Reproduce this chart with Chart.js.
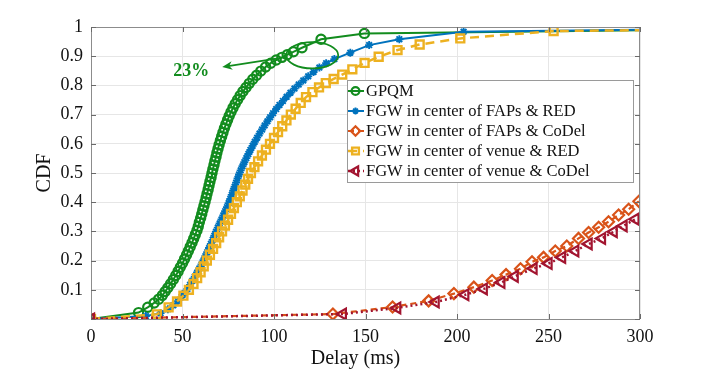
<!DOCTYPE html>
<html>
<head>
<meta charset="utf-8">
<script src="https://cdn.jsdelivr.net/npm/chart.js@4.4.1/dist/chart.umd.min.js"></script>
<style>
  html, body { margin: 0; padding: 0; background: #fff; }
  canvas { display: block; }
</style>
</head>
<body>
<canvas id="cdfChart" width="706" height="370"></canvas>
<script>
// legend text, in plotting order
const seriesNames = [
  'GPQM',
  'FGW in center of FAPs & RED',
  'FGW in center of FAPs & CoDel',
  'FGW in center of venue & RED',
  'FGW in center of venue & CoDel'
];

const xTickValues = [0, 50, 100, 150, 200, 250, 300];
const yTickValues = [0, 0.1, 0.2, 0.3, 0.4, 0.5, 0.6, 0.7, 0.8, 0.9, 1];

// GPQM
const gpqmDelay = [0, 26, 31, 34.5, 37, 39, 40.5, 42, 43.5, 45, 46.3, 47.6, 48.8, 50, 51.1, 52.2, 53.2, 54.2, 55.2, 56.1,
  57, 57.9, 58.6, 59.2, 59.9, 60.5, 61.1, 61.7, 62.3, 62.9, 63.4, 64, 64.5, 65, 65.6, 66.1, 66.6, 67.2, 67.7, 68.3,
  68.8, 69.4, 70, 70.7, 71.4, 72.1, 72.9, 73.7, 74.6, 75.5, 76.5, 77.6, 78.8, 80.1, 81.5, 83, 84.7, 86.5, 88.4, 90.5,
  92.8, 95.4, 98.2, 101.2, 104.3, 107.2, 110.6, 115.3, 125.7, 149.4, 360];
const gpqmCdf = [0, 0.022, 0.04, 0.055, 0.068, 0.081, 0.094, 0.107, 0.121, 0.135, 0.149, 0.163, 0.177, 0.191, 0.205, 0.219, 0.233, 0.247, 0.261, 0.275,
  0.289, 0.303, 0.317, 0.331, 0.345, 0.359, 0.373, 0.387, 0.401, 0.415, 0.429, 0.443, 0.457, 0.471, 0.485, 0.499, 0.513, 0.527, 0.541, 0.555,
  0.569, 0.583, 0.597, 0.611, 0.625, 0.639, 0.653, 0.667, 0.681, 0.695, 0.709, 0.723, 0.737, 0.751, 0.765, 0.779, 0.793, 0.807, 0.821, 0.835,
  0.849, 0.863, 0.876, 0.887, 0.896, 0.905, 0.915, 0.929, 0.958, 0.978, 0.993];

// FGW in center of FAPs & RED
const fapsRedDelay = [0, 30, 38, 42, 45, 47.5, 49.5, 51.2, 52.7, 54.1, 55.4, 56.7, 58, 59.2, 60.4, 61.5, 62.5, 63.5, 64.5, 65.5,
  66.5, 67.4, 68.3, 69.3, 70.3, 71.3, 72.3, 73.3, 74.3, 75.2, 76.1, 76.9, 77.7, 78.5, 79.3, 80.1, 80.9, 81.8, 82.8, 83.8,
  84.9, 86, 87.1, 88.3, 89.5, 90.8, 92.1, 93.5, 94.9, 96.4, 97.9, 99.5, 101.2, 103, 104.9, 106.9, 109, 111.2, 113.5, 116,
  118.7, 121.6, 124.8, 128.5, 133, 141.7, 152, 168.5, 203.6, 360];
const fapsRedCdf = [0, 0.01, 0.02, 0.033, 0.047, 0.061, 0.075, 0.089, 0.103, 0.117, 0.131, 0.145, 0.159, 0.173, 0.187, 0.201, 0.215, 0.229, 0.243, 0.257,
  0.271, 0.285, 0.299, 0.313, 0.327, 0.341, 0.355, 0.369, 0.383, 0.397, 0.411, 0.425, 0.439, 0.453, 0.467, 0.481, 0.495, 0.509, 0.523, 0.537,
  0.551, 0.565, 0.579, 0.593, 0.607, 0.621, 0.635, 0.649, 0.663, 0.677, 0.691, 0.705, 0.719, 0.733, 0.747, 0.761, 0.775, 0.789, 0.803, 0.817,
  0.831, 0.846, 0.861, 0.876, 0.89, 0.912, 0.938, 0.958, 0.984, 0.994];

// FGW in center of FAPs & CoDel
const fapsCodelDelay = [0, 132.2, 164.8, 184.5, 198.3, 209.2, 219.2, 226.8, 234.7, 241, 247.3, 253.7, 260, 266.4, 271.9, 277.4, 282.8, 288.3, 293.8, 299.4];
const fapsCodelCdf = [0, 0.017, 0.041, 0.062, 0.087, 0.109, 0.132, 0.152, 0.172, 0.196, 0.211, 0.233, 0.25, 0.276, 0.296, 0.314, 0.333, 0.356, 0.376, 0.403];

// FGW in center of venue & RED
const venueRedDelay = [0, 36, 42.4, 47, 50.5, 53.5, 56, 58, 59.9, 61.6, 63.3, 65, 66.7, 68.4, 70, 71.6, 73.2, 74.9, 76.5, 78.1,
  79.7, 81.3, 82.8, 84.3, 85.8, 87.4, 89.3, 91.3, 93.4, 95.6, 97.8, 100, 102.2, 104.5, 106.8, 109.2, 111.8, 114.6, 117.5, 121,
  124.6, 128.3, 132.6, 137.3, 142.8, 149.5, 157.2, 167.5, 179.6, 201.8, 252.8, 360];
const venueRedCdf = [0, 0.016, 0.04, 0.06, 0.08, 0.1, 0.12, 0.14, 0.16, 0.18, 0.2, 0.22, 0.24, 0.26, 0.28, 0.3, 0.32, 0.34, 0.36, 0.38,
  0.4, 0.42, 0.44, 0.46, 0.48, 0.5, 0.52, 0.54, 0.56, 0.58, 0.6, 0.62, 0.64, 0.66, 0.68, 0.7, 0.72, 0.74, 0.76, 0.777,
  0.793, 0.808, 0.822, 0.837, 0.855, 0.877, 0.898, 0.921, 0.94, 0.961, 0.986, 0.993];

// FGW in center of venue & CoDel
const venueCodelDelay = [0, 137.6, 167.3, 188.3, 204.5, 214.6, 224.2, 231.5, 241.8, 250, 257.4, 264.6, 271.9, 279.2, 285.6, 291, 297.5];
const venueCodelCdf = [0, 0.017, 0.038, 0.058, 0.083, 0.103, 0.125, 0.146, 0.173, 0.19, 0.211, 0.233, 0.257, 0.276, 0.299, 0.319, 0.342];

// annotation: 23% arrow + ellipse (data units)
const noteText = '23%';
const noteAt = [54.8, 0.849];
const arrowFrom = [106.5, 0.897];
const arrowTo = [71.7, 0.863];
const ellipseCenter = [120.9, 0.903];
const ellipseRadius = [14.2, 0.045];

const green = '#128c1e';
const styles = [
  { color: green, style: 'circle', radius: 4.6, width: 2.2, dash: [], lineWidth: 2 },
  { color: '#0072bd', style: 'star', radius: 4, width: 1.9, dash: [], lineWidth: 2 },
  { color: '#d95319', style: 'rectRot', radius: 5.5, width: 2.2, dash: [6, 4], lineWidth: 2.2 },
  { color: '#edb120', style: 'rect', radius: 5.6, width: 2.4, dash: [9, 6], lineWidth: 2.5 },
  { color: '#a2142f', style: 'triangle', radius: 6.2, width: 2.2, dash: [2, 3], lineWidth: 2.5, rotation: -90 }
];

const toPoints = (xs, ys) => xs.map((x, i) => ({ x: x, y: ys[i] }));
const seriesData = [
  toPoints(gpqmDelay, gpqmCdf),
  toPoints(fapsRedDelay, fapsRedCdf),
  toPoints(fapsCodelDelay, fapsCodelCdf),
  toPoints(venueRedDelay, venueRedCdf),
  toPoints(venueCodelDelay, venueCodelCdf)
];

const fontFamily = "'Liberation Serif', 'Times New Roman', serif";
Chart.defaults.font.family = fontFamily;

const datasets = seriesData.map((d, i) => ({
  label: seriesNames[i],
  data: d,
  order: seriesData.length - i, // later series drawn on top
  borderColor: styles[i].color,
  borderWidth: styles[i].lineWidth,
  borderDash: styles[i].dash,
  backgroundColor: 'rgba(0,0,0,0)',
  pointStyle: styles[i].style,
  pointRadius: styles[i].radius,
  pointBorderWidth: styles[i].width,
  pointBorderColor: styles[i].color,
  pointBackgroundColor: 'rgba(0,0,0,0)',
  pointRotation: styles[i].rotation || 0,
  tension: 0,
  fill: false
}));

function drawMarker(ctx, s, x, y) {
  if (Chart.helpers && Chart.helpers.drawPoint) {
    ctx.setLineDash([]);
    ctx.strokeStyle = s.color;
    ctx.fillStyle = 'rgba(0,0,0,0)';
    ctx.lineWidth = s.width;
    Chart.helpers.drawPoint(ctx, { pointStyle: s.style, radius: s.radius, rotation: s.rotation || 0, borderWidth: s.width }, x, y);
  }
}

const decorPlugin = {
  id: 'decor',
  afterDatasetsDraw(chart) {
    const { ctx, chartArea: a, scales: { x, y } } = chart;
    ctx.save();

    // box + inward ticks
    ctx.strokeStyle = '#8c8c8c';
    ctx.lineWidth = 1;
    ctx.strokeRect(a.left + 0.5, a.top + 0.5, a.right - a.left - 1, a.bottom - a.top);
    ctx.strokeStyle = '#6a6a6a';
    ctx.beginPath();
    xTickValues.forEach(v => {
      const px = Math.round(x.getPixelForValue(v)) + 0.5;
      ctx.moveTo(px, a.bottom); ctx.lineTo(px, a.bottom - 5);
      ctx.moveTo(px, a.top); ctx.lineTo(px, a.top + 5);
    });
    yTickValues.forEach(v => {
      const py = Math.round(y.getPixelForValue(v)) + 0.5;
      ctx.moveTo(a.left, py); ctx.lineTo(a.left + 5, py);
      ctx.moveTo(a.right, py); ctx.lineTo(a.right - 5, py);
    });
    ctx.stroke();

    // annotation
    ctx.strokeStyle = green;
    ctx.fillStyle = green;
    ctx.lineWidth = 1.8;
    const cx = x.getPixelForValue(ellipseCenter[0]);
    const cy = y.getPixelForValue(ellipseCenter[1]);
    const rx = x.getPixelForValue(ellipseCenter[0] + ellipseRadius[0]) - cx;
    const ry = cy - y.getPixelForValue(ellipseCenter[1] + ellipseRadius[1]);
    ctx.beginPath();
    ctx.ellipse(cx, cy, rx, ry, 0, 0, Math.PI * 2);
    ctx.stroke();

    const x1 = x.getPixelForValue(arrowFrom[0]), y1 = y.getPixelForValue(arrowFrom[1]);
    const x2 = x.getPixelForValue(arrowTo[0]), y2 = y.getPixelForValue(arrowTo[1]);
    const ang = Math.atan2(y2 - y1, x2 - x1);
    ctx.beginPath();
    ctx.moveTo(x1, y1);
    ctx.lineTo(x2 - 6 * Math.cos(ang), y2 - 6 * Math.sin(ang));
    ctx.stroke();
    ctx.beginPath();
    ctx.moveTo(x2, y2);
    ctx.lineTo(x2 - 11 * Math.cos(ang - 0.4), y2 - 11 * Math.sin(ang - 0.4));
    ctx.lineTo(x2 - 7 * Math.cos(ang), y2 - 7 * Math.sin(ang));
    ctx.lineTo(x2 - 11 * Math.cos(ang + 0.4), y2 - 11 * Math.sin(ang + 0.4));
    ctx.closePath();
    ctx.fill();

    ctx.font = 'bold 18px ' + fontFamily;
    ctx.textAlign = 'center';
    ctx.textBaseline = 'middle';
    ctx.fillText(noteText, x.getPixelForValue(noteAt[0]), y.getPixelForValue(noteAt[1]));

    // legend
    const lx = 347, ly = 80, lw = 286, lh = 102;
    ctx.fillStyle = '#fff';
    ctx.fillRect(lx, ly, lw, lh);
    ctx.strokeStyle = '#9a9a9a';
    ctx.lineWidth = 1;
    ctx.strokeRect(lx + 0.5, ly + 0.5, lw, lh);
    ctx.font = '16.5px ' + fontFamily;
    ctx.textAlign = 'left';
    seriesNames.forEach((name, i) => {
      const s = styles[i];
      const ry2 = ly + 11 + i * 20;
      ctx.strokeStyle = s.color;
      ctx.lineWidth = s.lineWidth;
      ctx.setLineDash(s.dash);
      ctx.beginPath();
      ctx.moveTo(lx + 1, ry2); ctx.lineTo(lx + 17, ry2);
      ctx.stroke();
      drawMarker(ctx, Object.assign({}, s, { radius: s.radius * 0.85 }), lx + 8.5, ry2);
      ctx.setLineDash([]);
      ctx.fillStyle = '#111';
      ctx.fillText(name, lx + 19, ry2 + 1);
    });

    // axis titles
    ctx.fillStyle = '#111';
    ctx.font = '20px ' + fontFamily;
    ctx.textAlign = 'center';
    ctx.fillText('Delay (ms)', (a.left + a.right) / 2 - 10, 359);
    ctx.translate(45, (a.top + a.bottom) / 2);
    ctx.rotate(-Math.PI / 2);
    ctx.fillText('CDF', 0, 0);
    ctx.restore();
  }
};

new Chart(document.getElementById('cdfChart'), {
  type: 'line',
  data: { datasets: datasets },
  options: {
    responsive: false,
    animation: false,
    devicePixelRatio: 1,
    layout: { padding: { top: 27, right: 66, left: 0, bottom: 0 } },
    plugins: { legend: { display: false }, tooltip: { enabled: false } },
    scales: {
      x: {
        type: 'linear',
        min: 0,
        max: 300,
        afterBuildTicks: s => { s.ticks = xTickValues.map(v => ({ value: v })); },
        afterFit: s => { s.height = 51; },
        border: { display: false },
        grid: { color: '#e6e6e6', drawTicks: false },
        ticks: { color: '#111', font: { size: 18 }, padding: 7, maxRotation: 0, callback: v => String(v) }
      },
      y: {
        min: 0,
        max: 1,
        afterBuildTicks: s => { s.ticks = yTickValues.map(v => ({ value: v })); },
        afterFit: s => { s.width = 91; },
        border: { display: false },
        grid: { color: '#e6e6e6', drawTicks: false },
        ticks: { color: '#111', font: { size: 18 }, padding: 8, callback: v => v === 0 ? '' : String(Math.round(v * 10) / 10) }
      }
    }
  },
  plugins: [decorPlugin]
});
</script>
</body>
</html>
